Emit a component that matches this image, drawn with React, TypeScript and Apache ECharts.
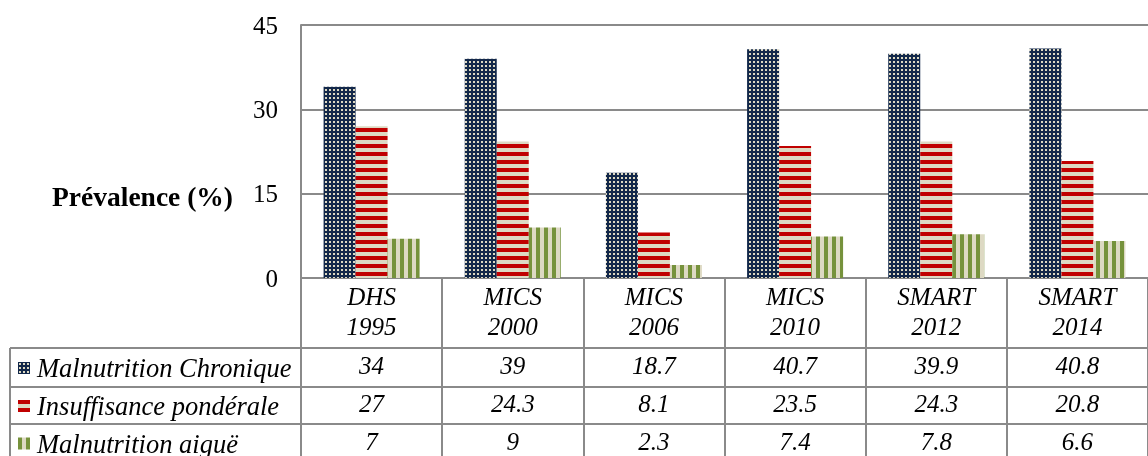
import React, { useEffect, useRef } from "react";
import * as echarts from "echarts";

const categories = ["DHS\n1995", "MICS\n2000", "MICS\n2006", "MICS\n2010", "SMART\n2012", "SMART\n2014"];
const seriesNames = ["Malnutrition Chronique", "Insuffisance pondérale", "Malnutrition aiguë"];
const chronique = [34, 39, 18.7, 40.7, 39.9, 40.8];
const ponderale = [27, 24.3, 8.1, 23.5, 24.3, 20.8];
const aigue = [7, 9, 2.3, 7.4, 7.8, 6.6];
const yTicks = [0, 15, 30, 45];

const FONT = "Liberation Serif";
const GRAY = "#8a8a8a";
const NAVY = "#13284a";
const CREAM = "#ddd9c3";
const RED = "#c00000";
const GREEN = "#76923c";

function makeCanvas(w: number, h: number, draw: (ctx: CanvasRenderingContext2D) => void) {
  const c = document.createElement("canvas");
  c.width = w;
  c.height = h;
  const ctx = c.getContext("2d")!;
  draw(ctx);
  return c;
}

export default function App() {
  const ref = useRef<HTMLDivElement>(null);
  useEffect(() => {
    if (!ref.current) return;
    const chart = echarts.init(ref.current, undefined, { renderer: "svg" });

    const dots = makeCanvas(4, 4, (ctx) => {
      ctx.fillStyle = NAVY;
      ctx.fillRect(0, 0, 4, 4);
      ctx.fillStyle = CREAM;
      ctx.fillRect(1, 1, 2, 2);
    });
    const hstripes = makeCanvas(8, 8, (ctx) => {
      ctx.fillStyle = CREAM;
      ctx.fillRect(0, 0, 8, 8);
      ctx.fillStyle = RED;
      ctx.fillRect(0, 0, 8, 4);
    });
    const vstripes = makeCanvas(8, 8, (ctx) => {
      ctx.fillStyle = CREAM;
      ctx.fillRect(0, 0, 8, 8);
      ctx.fillStyle = GREEN;
      ctx.fillRect(0, 0, 4, 8);
    });
    const patterns = [dots, hstripes, vstripes].map((img) => ({
      image: img,
      repeat: "repeat",
      imageWidth: img.width,
      imageHeight: img.height,
    }));

    const gridLeft = 301;
    const gridTop = 25;
    const gridW = 858;
    const gridH = 255;

    const rowVals = [chronique, ponderale, aigue];
    const rowOffsets = [70, 108, 145.5];
    const rowCenters = [367.5, 405.5, 443];

    const labelStyle = {
      fontFamily: FONT,
      fontStyle: "italic" as const,
      fontSize: 25,
      color: "#000",
      lineHeight: 30,
    };

    const xAxes: any[] = [
      {
        type: "category",
        data: categories,
        position: "bottom",
        axisLine: { show: true, lineStyle: { color: GRAY, width: 2 } },
        axisTick: { show: true, length: 185, lineStyle: { color: GRAY, width: 2 } },
        axisLabel: { ...labelStyle, margin: 3, interval: 0 },
      },
    ];
    rowVals.forEach((vals, i) => {
      xAxes.push({
        type: "category",
        data: categories,
        position: "bottom",
        offset: rowOffsets[i],
        axisLine: { show: false },
        axisTick: { show: false },
        axisLabel: {
          ...labelStyle,
          margin: 2.5,
          interval: 0,
          formatter: (_v: string, idx: number) => String(vals[idx]),
        },
      });
    });

    const legends = seriesNames.map((name, i) => ({
      orient: "vertical",
      left: 18,
      top: rowCenters[i] - 13,
      padding: 0,
      itemWidth: 12,
      itemHeight: 12,
      icon: "rect",
      data: [name],
      textStyle: {
        fontFamily: FONT,
        fontStyle: "italic",
        fontSize: 26.5,
        color: "#000",
        lineHeight: 26,
        padding: [0, 0, 0, 2],
      },
    }));

    const tableLines = [348, 387, 424].map((y) => ({
      type: "line",
      shape: { x1: 10, y1: y, x2: 1160, y2: y },
      style: { stroke: GRAY, lineWidth: 2 },
    }));

    chart.setOption({
      animation: false,
      grid: { left: gridLeft, top: gridTop, width: gridW, height: gridH, containLabel: false },
      legend: legends,
      xAxis: xAxes,
      yAxis: {
        type: "value",
        min: 0,
        max: 45,
        interval: 15,
        axisLine: { show: true, lineStyle: { color: GRAY, width: 2 } },
        axisTick: { show: false },
        splitLine: { show: true, lineStyle: { color: GRAY, width: 2 } },
        axisLabel: {
          fontFamily: FONT,
          fontSize: 25,
          color: "#000",
          margin: 23,
          formatter: (v: number) => (yTicks.includes(v) ? String(v) : ""),
        },
      },
      graphic: [
        ...tableLines,
        {
          type: "line",
          shape: { x1: 10, y1: 348, x2: 10, y2: 460 },
          style: { stroke: GRAY, lineWidth: 2 },
        },
        {
          type: "text",
          x: 233,
          y: 196,
          style: {
            text: "Prévalence (%)",
            fontFamily: FONT,
            fontWeight: "bold",
            fontSize: 27.5,
            fill: "#000",
            align: "right",
            verticalAlign: "middle",
          },
        },
      ],
      series: [chronique, ponderale, aigue].map((d, i) => ({
        name: seriesNames[i],
        type: "bar",
        xAxisIndex: 0,
        data: d,
        barWidth: 32,
        barGap: "0%",
        itemStyle: { color: patterns[i] },
      })),
    });
    return () => chart.dispose();
  }, []);
  return <div ref={ref} style={{ position: "fixed", left: 0, top: 0, width: 1148, height: 456 }} />;
}
